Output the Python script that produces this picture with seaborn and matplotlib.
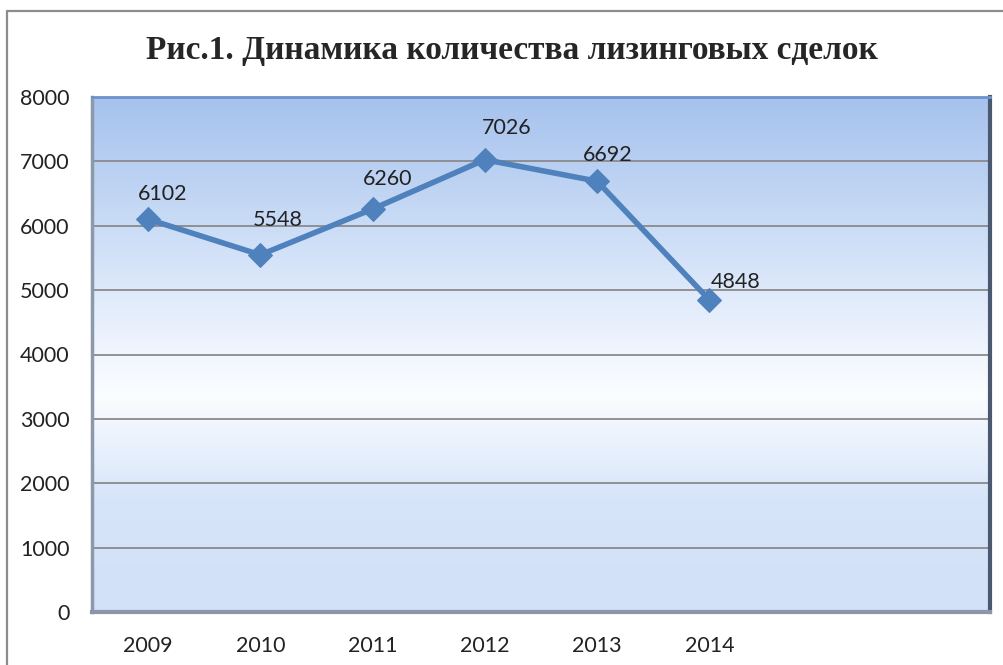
import numpy as np
import pandas as pd
import matplotlib
matplotlib.use("Agg")
import matplotlib.pyplot as plt
from matplotlib.colors import LinearSegmentedColormap
from matplotlib.lines import Line2D
import seaborn as sns

years = ["2009", "2010", "2011", "2012", "2013", "2014"]
deals = [6102, 5548, 6260, 7026, 6692, 4848]
yticks = [0, 1000, 2000, 3000, 4000, 5000, 6000, 7000, 8000]
title = "Рис.1. Динамика количества лизинговых сделок"

sns.set_style("white")
plt.rcParams["font.family"] = ["Lato", "DejaVu Sans"]

df = pd.DataFrame({"year": years, "deals": deals})
df["pos"] = np.arange(len(years))

fig = plt.figure(figsize=(10.04, 6.65), dpi=100)
ax = fig.add_axes([92/1004, 1-612/665, (990-92)/1004, (612-97)/665])

# background gradient (bottom -> top)
cmap = LinearSegmentedColormap.from_list("bg", [
    (0.0, "#d2e0f8"), (0.22, "#d7e5fa"), (0.42, "#fbfdff"),
    (0.55, "#eaf1fd"), (0.75, "#cadcf6"), (1.0, "#a6c2ed")])
grad = np.linspace(0, 1, 256).reshape(-1, 1)
ax.imshow(grad, extent=[0, 1, 0, 1], transform=ax.transAxes, aspect="auto",
          cmap=cmap, origin="lower", zorder=0)

line_color = "#4f81bd"
sns.lineplot(data=df, x="pos", y="deals", ax=ax, color=line_color, lw=4,
             marker="D", markersize=12, markeredgecolor=line_color, zorder=5)

# label offsets in pixels (label centre relative to point)
offsets = [(15, 25), (17, 35), (15, 30), (22, 32), (11, 26), (26, 18)]
for (i, v), off in zip(enumerate(deals), offsets):
    ax.annotate(str(v), (i, v), xytext=off, textcoords="offset pixels",
                ha="center", va="center", fontsize=15.5, color="#222222", zorder=6)

ax.set_xlim(-0.5, 7.5)
ax.set_ylim(0, 8000)
ax.set_yticks(yticks)
ax.set_yticklabels([str(t) for t in yticks])
ax.set_xticks(range(len(years)))
ax.set_xticklabels(years)
ax.set_xlabel("")
ax.set_ylabel("")
ax.tick_params(axis="both", length=0, labelsize=15.5, colors="#222222")
ax.tick_params(axis="y", pad=16)
ax.tick_params(axis="x", pad=17)
for t in yticks[1:-1]:
    ax.axhline(t, color="#8a8a8a", lw=1.3, zorder=2)

ax.spines["left"].set_color("#8c99ab"); ax.spines["left"].set_linewidth(2.5)
ax.spines["bottom"].set_color("#8c96a6"); ax.spines["bottom"].set_linewidth(3)
ax.spines["right"].set_color("#4a5870"); ax.spines["right"].set_linewidth(3)
ax.spines["top"].set_color("#6d93cb"); ax.spines["top"].set_linewidth(2)

fig.text(512/1004, 1-50/665, title, ha="center", va="center",
         family=["Liberation Serif", "DejaVu Serif"], weight="bold", fontsize=24)

fig.add_artist(Line2D([7/1004, 1], [1-11/665, 1-11/665], transform=fig.transFigure,
                      color="#8c8c8c", lw=1.6))
fig.add_artist(Line2D([7/1004, 7/1004], [0, 1-11/665], transform=fig.transFigure,
                      color="#8c8c8c", lw=1.6))

fig.savefig("out.png", dpi=100)
